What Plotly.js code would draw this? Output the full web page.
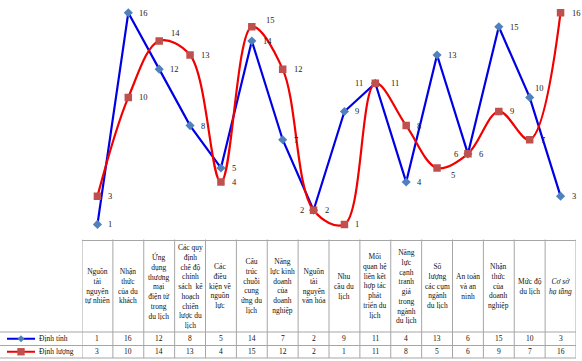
<!DOCTYPE html>
<html>
<head>
<meta charset="utf-8">
<script src="https://cdn.plot.ly/plotly-3.0.1.min.js"></script>
<style>html,body{margin:0;padding:0;background:#fff;}#chart{width:582px;height:361px;}</style>
</head>
<body>
<div id="chart"></div>
<script>
// ---- data ----
const categories = [
  "Nguồn<br>tài<br>nguyên<br>tự nhiên",
  "Nhận<br>thức<br>của du<br>khách",
  "Ứng<br>dụng<br>thương<br>mại<br>điện tử<br>trong<br>du lịch",
  "Các quy<br>định<br>chế độ<br>chính<br>sách  kế<br>hoạch<br>chiến<br>lược du<br>lịch",
  "Các<br>điều<br>kiện về<br>nguồn<br>lực",
  "Cấu<br>trúc<br>chuỗi<br>cung<br>ứng du<br>lịch",
  "Năng<br>lực kinh<br>doanh<br>của<br>doanh<br>nghiệp",
  "Nguồn<br>tài<br>nguyên<br>văn hóa",
  "Nhu<br>cầu du<br>lịch",
  "Mối<br>quan hệ<br>liên kết<br>hợp tác<br>phát<br>triển du<br>lịch",
  "Năng<br>lực<br>cạnh<br>tranh<br>giá<br>trong<br>ngành<br>du lịch",
  "Số<br>lượng<br>các cụm<br>ngành<br>du lịch",
  "An toàn<br>và an<br>ninh",
  "Nhận<br>thức<br>của<br>doanh<br>nghiệp",
  "Mức độ<br>du lịch",
  "<i>Cơ sở<br>hạ tầng</i>"
];
const seriesNames = ["Định tính", "Định lượng"];
const dinhTinh  = [1, 16, 12, 8, 5, 14, 7, 2, 9, 11, 4, 13, 6, 15, 10, 3];
const dinhLuong = [3, 10, 14, 13, 4, 15, 12, 2, 1, 11, 8, 5, 6, 9, 7, 16];

// ---- style / layout helpers ----
const W = 582, H = 361;
const px = x => x / W;
const py = p => 1 - p / H;
const plotL = 82, plotR = 576, plotB = 239.5;
const rowLines = [332, 345.5, 358];
const headerMid = 286;
const FONT = "'Liberation Serif', 'Times New Roman', serif";
const blueLine = "#0000E6", blueMarker = "#4F81BD";
const redLine = "#F20000", redMarker = "#C0504D";
const gridCol = "#A6A6A6";

// label offsets (style): [xanchor, xshift, yshift]
const blueLbl = dinhTinh.map(() => ["left", 9, 0]);
blueLbl[7] = ["right", -8, 0];
blueLbl[9] = ["right", -10, 0];
blueLbl[12] = ["right", -8, 0];
blueLbl[14] = ["left", 3, 9];
const redLbl = dinhLuong.map(() => ["left", 9, 0]);
redLbl[2] = ["left", 10, 8];
redLbl[5] = ["left", 12, 7];
redLbl[9] = ["left", 14, 0];
redLbl[11] = ["left", 12, -7];

const xs = categories.map((c, i) => i);

const traces = [
  {
    x: xs, y: dinhTinh, name: seriesNames[0], type: "scatter", mode: "lines+markers",
    line: {color: blueLine, width: 2.2},
    marker: {symbol: "diamond", size: 7, color: blueMarker},
    showlegend: false, hoverinfo: "skip"
  },
  {
    x: xs, y: dinhLuong, name: seriesNames[1], type: "scatter", mode: "lines+markers",
    line: {color: redLine, width: 2.2, shape: "spline", smoothing: 1},
    marker: {symbol: "square", size: 7.5, color: redMarker},
    showlegend: false, hoverinfo: "skip"
  }
];

const annotations = [];
const shapes = [];

// data labels
[[dinhTinh, blueLbl], [dinhLuong, redLbl]].forEach(([vals, lbl]) => {
  vals.forEach((v, i) => {
    annotations.push({
      x: i, y: v, xref: "x", yref: "y", text: String(v), showarrow: false,
      xanchor: lbl[i][0], yanchor: "middle", xshift: lbl[i][1], yshift: lbl[i][2],
      font: {family: FONT, size: 8.5, color: "#222"}
    });
  });
});

// table: header texts
categories.forEach((c, i) => {
  annotations.push({
    x: i, y: py(headerMid), xref: "x", yref: "paper", text: c, showarrow: false,
    xanchor: "center", yanchor: "middle", align: "center",
    font: {family: FONT, size: 7.5, color: "#111"}
  });
});
// table: value rows
const rowCenters = [(rowLines[0] + rowLines[1]) / 2, (rowLines[1] + rowLines[2]) / 2];
[dinhTinh, dinhLuong].forEach((vals, r) => {
  vals.forEach((v, i) => {
    annotations.push({
      x: i, y: py(rowCenters[r]), xref: "x", yref: "paper", text: String(v), showarrow: false,
      xanchor: "center", yanchor: "middle",
      font: {family: FONT, size: 7.5, color: "#111"}
    });
  });
  annotations.push({
    x: px(37), y: py(rowCenters[r]), xref: "paper", yref: "paper", text: seriesNames[r],
    showarrow: false, xanchor: "left", yanchor: "middle",
    font: {family: FONT, size: 7.5, color: "#111"}
  });
});

// table grid: vertical lines
for (let k = 0; k <= categories.length; k++) {
  shapes.push({type: "line", xref: "x", yref: "paper", x0: k - 0.5, x1: k - 0.5,
    y0: py(plotB), y1: py(rowLines[2]), line: {color: gridCol, width: 1}});
}
// horizontal lines
rowLines.forEach(p => {
  shapes.push({type: "line", xref: "paper", yref: "paper", x0: 0, x1: px(plotR),
    y0: py(p), y1: py(p), line: {color: gridCol, width: 1}});
});

// legend keys in the table
[[blueLine, blueMarker, "diamond"], [redLine, redMarker, "square"]].forEach(([lc, mc, sym], r) => {
  const yc = rowCenters[r];
  shapes.push({type: "line", xref: "paper", yref: "paper", x0: px(7), x1: px(35),
    y0: py(yc), y1: py(yc), line: {color: lc, width: 2}});
  if (sym === "diamond") {
    const cx = 21, d = 3.5;
    shapes.push({type: "path", xref: "paper", yref: "paper",
      path: `M${px(cx - d)},${py(yc)} L${px(cx)},${py(yc - d)} L${px(cx + d)},${py(yc)} L${px(cx)},${py(yc + d)} Z`,
      fillcolor: mc, line: {width: 0}});
  } else {
    const cx = 21, d = 3.7;
    shapes.push({type: "rect", xref: "paper", yref: "paper",
      x0: px(cx - d), x1: px(cx + d), y0: py(yc - d), y1: py(yc + d),
      fillcolor: mc, line: {width: 0}});
  }
});

const layout = {
  width: W, height: H,
  margin: {l: 0, r: 0, t: 0, b: 0, pad: 0},
  paper_bgcolor: "#fff", plot_bgcolor: "#fff",
  showlegend: false,
  xaxis: {
    domain: [px(plotL), px(plotR)], range: [-0.5, categories.length - 0.5],
    showticklabels: false, ticks: "", showgrid: false, zeroline: false,
    showline: true, linecolor: gridCol, linewidth: 1, fixedrange: true
  },
  yaxis: {
    domain: [py(plotB), 1], range: [-0.07, 16.9],
    showticklabels: false, ticks: "", showgrid: false, zeroline: false,
    showline: false, fixedrange: true
  },
  annotations: annotations,
  shapes: shapes
};

Plotly.newPlot("chart", traces, layout, {staticPlot: true, displayModeBar: false});
</script>
</body>
</html>
